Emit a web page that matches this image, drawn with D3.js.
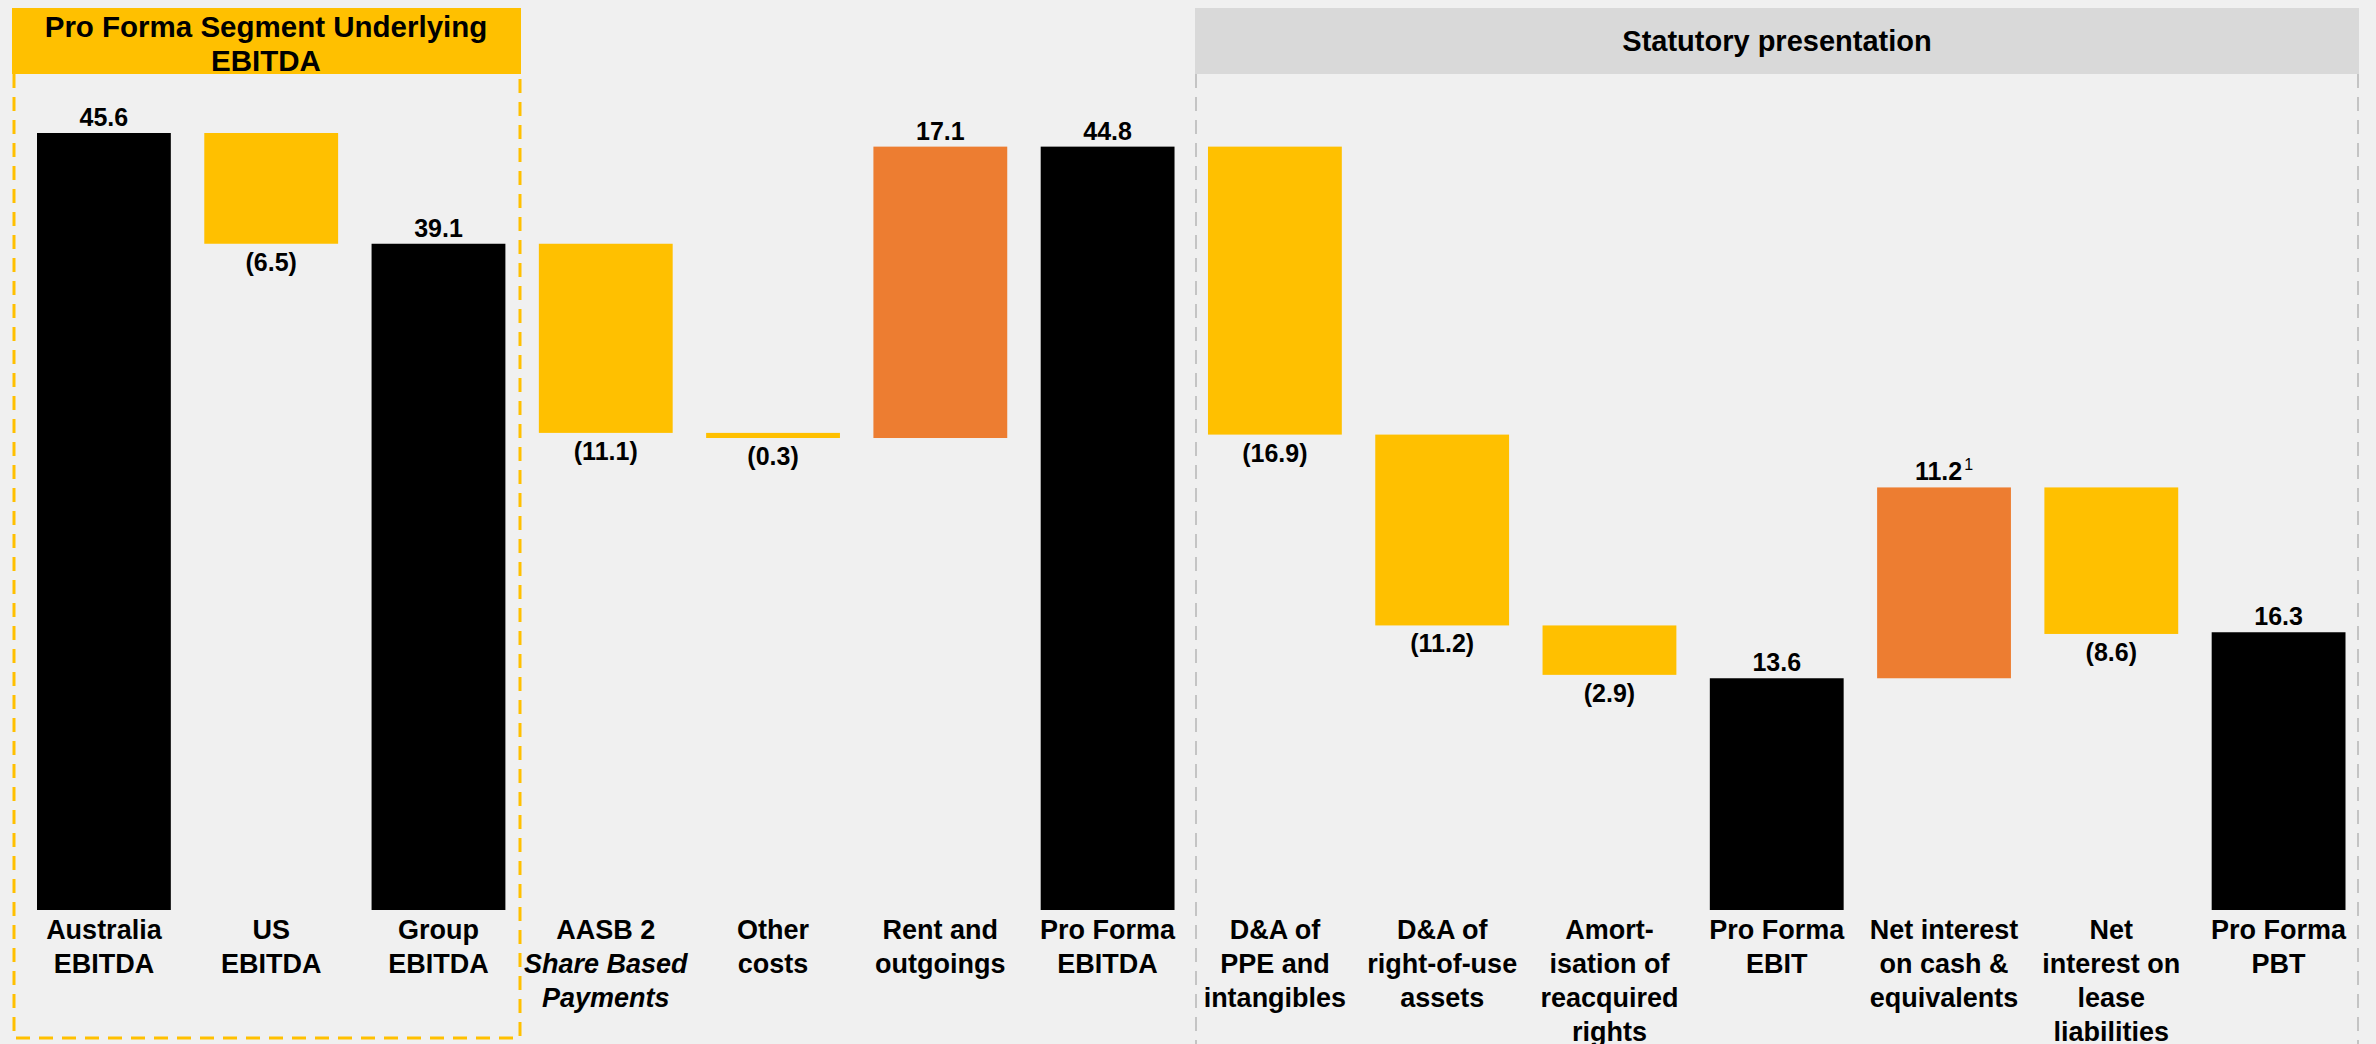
<!DOCTYPE html>
<html>
<head>
<meta charset="utf-8">
<script src="https://cdn.jsdelivr.net/npm/d3@7"></script>
<style>
  html, body { margin: 0; padding: 0; background: #f0f0f0; }
  svg { display: block; }
  text { font-family: "Liberation Sans", Arial, sans-serif; font-weight: bold; fill: #000; }
</style>
</head>
<body>
<svg id="chart" width="2376" height="1044"></svg>
<script>
// ---- data ----
const categories = [
  "Australia EBITDA", "US EBITDA", "Group EBITDA", "AASB 2 Share Based Payments",
  "Other costs", "Rent and outgoings", "Pro Forma EBITDA", "D&A of PPE and intangibles",
  "D&A of right-of-use assets", "Amortisation of reacquired rights", "Pro Forma EBIT",
  "Net interest on cash & equivalents", "Net interest on lease liabilities", "Pro Forma PBT"
];
const labelLines = [
  ["Australia", "EBITDA"],
  ["US", "EBITDA"],
  ["Group", "EBITDA"],
  ["AASB 2", "Share Based", "Payments"],
  ["Other", "costs"],
  ["Rent and", "outgoings"],
  ["Pro Forma", "EBITDA"],
  ["D&A of", "PPE and", "intangibles"],
  ["D&A of", "right-of-use", "assets"],
  ["Amort-", "isation of", "reacquired", "rights"],
  ["Pro Forma", "EBIT"],
  ["Net interest", "on cash &", "equivalents"],
  ["Net", "interest on", "lease", "liabilities"],
  ["Pro Forma", "PBT"]
];
const italicLines = ["Share Based", "Payments"];
const values = [45.6, -6.5, 39.1, -11.1, -0.3, 17.1, 44.8, -16.9, -11.2, -2.9, 13.6, 11.2, -8.6, 16.3];
const barTypes = ["total", "delta", "total", "delta", "delta", "delta", "total",
                  "delta", "delta", "delta", "total", "delta", "delta", "total"];
const valueLabels = ["45.6", "(6.5)", "39.1", "(11.1)", "(0.3)", "17.1", "44.8",
                     "(16.9)", "(11.2)", "(2.9)", "13.6", "11.2", "(8.6)", "16.3"];
const footnotes = ["", "", "", "", "", "", "", "", "", "", "", "1", "", ""];
const groupTitles = ["Pro Forma Segment Underlying", "EBITDA"];
const statTitle = "Statutory presentation";

// ---- build waterfall ----
let running = 0;
const bars = categories.map((c, i) => {
  let start, end;
  if (barTypes[i] === "total") { start = 0; end = values[i]; running = values[i]; }
  else { start = running; end = running + values[i]; running = end; }
  return { cat: c, i, start, end, v: values[i], type: barTypes[i], label: valueLabels[i], fn: footnotes[i] };
});

const colorFor = d => d.type === "total" ? "#000000" : (d.v < 0 ? "#FFC000" : "#ED7D31");

const svg = d3.select("#chart");

// background
svg.append("rect").attr("width", 2376).attr("height", 1044).attr("fill", "#f0f0f0");

const x = d3.scaleBand().domain(categories).range([37, 2345.5]).paddingInner(0.2).paddingOuter(0);
const y = d3.scaleLinear().domain([0, 45.6]).range([910, 133]);

// group boxes
// Left: yellow header + dashed yellow border
svg.append("rect").attr("x", 12).attr("y", 8).attr("width", 509).attr("height", 66).attr("fill", "#FFC000");
svg.append("path")
  .attr("d", "M14,74 V1038 H520 V74")
  .attr("fill", "none").attr("stroke", "#FFC000").attr("stroke-width", 3)
  .attr("stroke-dasharray", "14,9");
svg.append("text").attr("x", 266).attr("text-anchor", "middle").attr("font-size", 29.5)
  .selectAll("tspan").data(groupTitles).join("tspan")
  .attr("x", 266).attr("y", (d, i) => 37 + i * 34).text(d => d);

// Right: grey header + dashed grey border
svg.append("rect").attr("x", 1195).attr("y", 8).attr("width", 1164).attr("height", 66).attr("fill", "#d9d9d9");
svg.append("path")
  .attr("d", "M1196,74 V1044 M2358,74 V1044")
  .attr("fill", "none").attr("stroke", "#c4c4c4").attr("stroke-width", 2)
  .attr("stroke-dasharray", "14,9");
svg.append("text").attr("x", 1777).attr("y", 51).attr("text-anchor", "middle")
  .attr("font-size", 29).text(statTitle);

// bars
svg.append("g").selectAll("rect").data(bars).join("rect")
  .attr("x", d => x(d.cat))
  .attr("width", x.bandwidth())
  .attr("y", d => y(Math.max(d.start, d.end)))
  .attr("height", d => Math.max(1, Math.abs(y(d.start) - y(d.end))))
  .attr("fill", colorFor);

// value labels
const vl = svg.append("g").selectAll("text").data(bars).join("text")
  .attr("x", d => x(d.cat) + x.bandwidth() / 2)
  .attr("y", d => d.v < 0 && d.type !== "total"
      ? y(Math.min(d.start, d.end)) + 27
      : y(Math.max(d.start, d.end)) - 7)
  .attr("text-anchor", "middle")
  .attr("font-size", 25);
vl.append("tspan").text(d => d.label);
vl.filter(d => d.fn).append("tspan")
  .attr("dy", -10).attr("dx", 2).attr("font-size", 16).attr("font-weight", "normal").text(d => d.fn);

// category labels
const cl = svg.append("g").selectAll("text").data(bars).join("text")
  .attr("text-anchor", "middle").attr("font-size", 27);
cl.selectAll("tspan").data(d => labelLines[d.i].map(t => ({ t, cx: x(d.cat) + x.bandwidth() / 2 })))
  .join("tspan")
  .attr("x", d => d.cx)
  .attr("y", (d, j) => 939 + j * 34)
  .attr("font-style", d => italicLines.includes(d.t) ? "italic" : "normal")
  .text(d => d.t);
</script>
</body>
</html>
